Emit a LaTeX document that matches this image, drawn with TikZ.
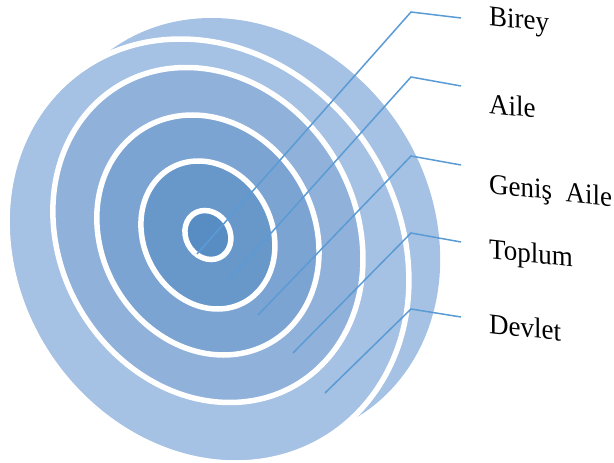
\documentclass[tikz,border=0pt]{standalone}
\usepackage{fontspec}
\setmainfont{Liberation Serif}
\usepackage{tikz}
\usetikzlibrary{positioning}
\definecolor{devletBlue}{HTML}{A5C1E3}
\definecolor{toplumBlue}{HTML}{8FB1DA}
\definecolor{genisBlue}{HTML}{7BA4D2}
\definecolor{aileBlue}{HTML}{6897CA}
\definecolor{bireyBlue}{HTML}{588DC4}
\definecolor{leaderBlue}{HTML}{5B9BD5}

\begin{document}
\begin{tikzpicture}[
  x=1pt, y=-1pt,
  ringFill/.style={draw=white, line width=5.5pt},
  leaderLine/.style={draw=leaderBlue, line width=1.5pt},
  levelLabel/.style={anchor=base west, inner sep=0pt, font=\fontsize{27}{30}\selectfont, yslant=-0.11, yscale=1.06}
]
  \useasboundingbox (0,0) rectangle (614,463);

  \begin{scope}[shift={(208,251)}, xslant=-0.13]
    \fill[devletBlue] (34,-21) ellipse [x radius=199, y radius=212];
    \path[ringFill, fill=devletBlue] (0,0) ellipse [x radius=199, y radius=212];
    \path[ringFill, fill=toplumBlue] (2,-16) ellipse [x radius=153.5, y radius=167.5];
    \path[ringFill, fill=genisBlue] (2,-16) ellipse [x radius=110, y radius=120];
    \path[ringFill, fill=aileBlue] (2,-16) ellipse [x radius=66.3, y radius=74];
    \path[ringFill, fill=bireyBlue] (2,-16) ellipse [x radius=22.8, y radius=24.5];
  \end{scope}

  \coordinate (bireyIn) at (197,254);
  \coordinate (bireyBend) at (411,12);
  \coordinate (bireyTip) at (461,18);
  \coordinate (aileIn) at (229,280);
  \coordinate (aileBend) at (411,77);
  \coordinate (aileTip) at (461,86);
  \coordinate (genisIn) at (258,315);
  \coordinate (genisBend) at (411,156);
  \coordinate (genisTip) at (461,165);
  \coordinate (toplumIn) at (293,353);
  \coordinate (toplumBend) at (411,233);
  \coordinate (toplumTip) at (461,242);
  \coordinate (devletIn) at (325,393);
  \coordinate (devletBend) at (411,309);
  \coordinate (devletTip) at (461,317);

  \draw[leaderLine] (bireyIn) -- (bireyBend) -- (bireyTip);
  \draw[leaderLine] (aileIn) -- (aileBend) -- (aileTip);
  \draw[leaderLine] (genisIn) -- (genisBend) -- (genisTip);
  \draw[leaderLine] (toplumIn) -- (toplumBend) -- (toplumTip);
  \draw[leaderLine] (devletIn) -- (devletBend) -- (devletTip);

  \node[levelLabel] (birey) at (489,25) {Birey};
  \node[levelLabel] (aile) at (489,113) {Aile};
  \node[levelLabel] (genis) at (489,193) {Geniş\ \ Aile};
  \node[levelLabel] (toplum) at (489,258) {Toplum};
  \node[levelLabel] (devlet) at (489,333) {Devlet};

\end{tikzpicture}
\end{document}
